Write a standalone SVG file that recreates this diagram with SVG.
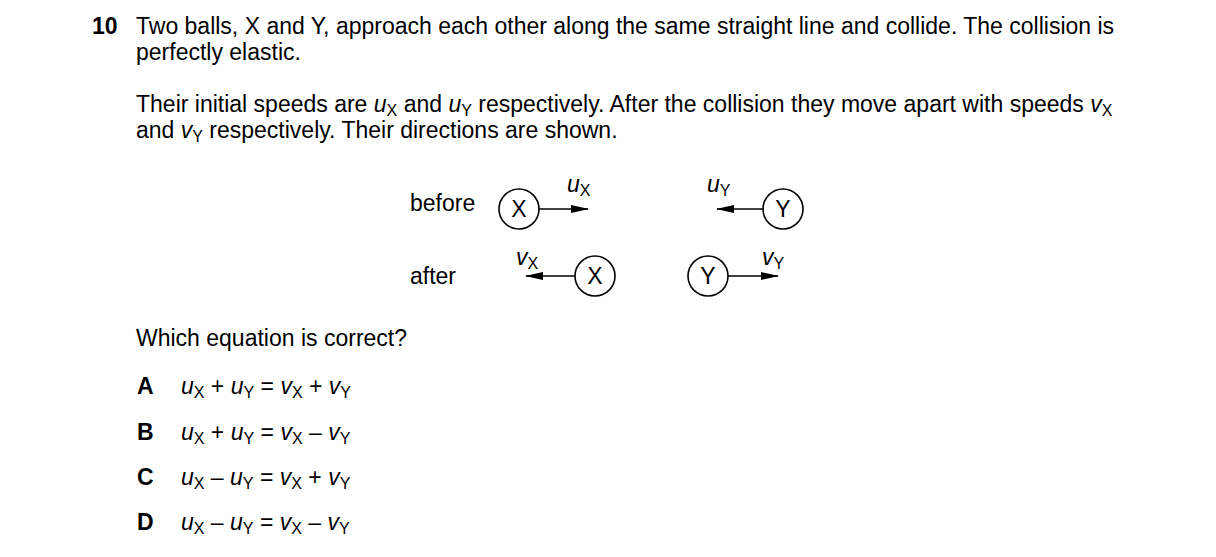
<svg xmlns="http://www.w3.org/2000/svg" width="1216" height="557" viewBox="0 0 1216 557">
<style>
text{font-family:"Liberation Sans",Arial,sans-serif;font-size:23px;fill:#000}
.b{font-weight:bold}
.i{font-style:italic}
.s{font-size:16px;font-style:normal}
.c{fill:#fff;stroke:#000;stroke-width:1.6}
.l{stroke:#000;stroke-width:1.6}
</style>
<defs><marker id="a" markerWidth="18" markerHeight="8" refX="17" refY="4" orient="auto" markerUnits="userSpaceOnUse"><path d="M0,0L18,4L0,8z"/></marker></defs>
<rect width="1216" height="557" fill="#fff"/>
<text x="92" y="34" class="b">10</text>
<text x="136" y="34">Two balls, X and Y, approach each other along the same straight line and collide. The collision is</text>
<text x="136" y="60">perfectly elastic.</text>
<text x="136" y="112">Their initial speeds are <tspan class="i">u</tspan><tspan class="s" dy="4">X</tspan><tspan dy="-4"> and </tspan><tspan class="i">u</tspan><tspan class="s" dy="4">Y</tspan><tspan dy="-4"> respectively. After the collision they move apart with speeds </tspan><tspan class="i">v</tspan><tspan class="s" dy="4">X</tspan></text>
<text x="136" y="138">and <tspan class="i">v</tspan><tspan class="s" dy="4">Y</tspan><tspan dy="-4"> respectively. Their directions are shown.</tspan></text>
<text x="410" y="211">before</text>
<text x="410" y="284">after</text>
<g id="connectors">
<line class="l" x1="539" y1="209" x2="588" y2="209" marker-end="url(#a)"/>
<line class="l" x1="763" y1="209" x2="717" y2="209" marker-end="url(#a)"/>
<line class="l" x1="575" y1="276" x2="526" y2="276" marker-end="url(#a)"/>
<line class="l" x1="728" y1="276" x2="778" y2="276" marker-end="url(#a)"/>
</g>
<text x="567" y="192" class="i">u<tspan class="s" dy="4">X</tspan></text>
<text x="707" y="192" class="i">u<tspan class="s" dy="4">Y</tspan></text>
<text x="516" y="265" class="i">v<tspan class="s" dy="4">X</tspan></text>
<text x="762" y="265" class="i">v<tspan class="s" dy="4">Y</tspan></text>
<g id="X1"><circle class="c" cx="519" cy="209" r="20"/><text x="519" y="217" text-anchor="middle">X</text></g>
<g id="Y1"><circle class="c" cx="783" cy="209" r="20"/><text x="783" y="217" text-anchor="middle">Y</text></g>
<g id="X2"><circle class="c" cx="595" cy="276" r="20"/><text x="595" y="284" text-anchor="middle">X</text></g>
<g id="Y2"><circle class="c" cx="708" cy="276" r="20"/><text x="708" y="284" text-anchor="middle">Y</text></g>
<text x="136" y="346">Which equation is correct?</text>
<g>
<text x="137" y="394" class="b">A</text>
<text x="181" y="394"><tspan class="i">u</tspan><tspan class="s" dy="4">X</tspan><tspan dy="-4"> + </tspan><tspan class="i">u</tspan><tspan class="s" dy="4">Y</tspan><tspan dy="-4"> = </tspan><tspan class="i">v</tspan><tspan class="s" dy="4">X</tspan><tspan dy="-4"> + </tspan><tspan class="i">v</tspan><tspan class="s" dy="4">Y</tspan></text>
<text x="137" y="440" class="b">B</text>
<text x="181" y="440"><tspan class="i">u</tspan><tspan class="s" dy="4">X</tspan><tspan dy="-4"> + </tspan><tspan class="i">u</tspan><tspan class="s" dy="4">Y</tspan><tspan dy="-4"> = </tspan><tspan class="i">v</tspan><tspan class="s" dy="4">X</tspan><tspan dy="-4"> – </tspan><tspan class="i">v</tspan><tspan class="s" dy="4">Y</tspan></text>
<text x="137" y="485" class="b">C</text>
<text x="181" y="485"><tspan class="i">u</tspan><tspan class="s" dy="4">X</tspan><tspan dy="-4"> – </tspan><tspan class="i">u</tspan><tspan class="s" dy="4">Y</tspan><tspan dy="-4"> = </tspan><tspan class="i">v</tspan><tspan class="s" dy="4">X</tspan><tspan dy="-4"> + </tspan><tspan class="i">v</tspan><tspan class="s" dy="4">Y</tspan></text>
<text x="137" y="530" class="b">D</text>
<text x="181" y="530"><tspan class="i">u</tspan><tspan class="s" dy="4">X</tspan><tspan dy="-4"> – </tspan><tspan class="i">u</tspan><tspan class="s" dy="4">Y</tspan><tspan dy="-4"> = </tspan><tspan class="i">v</tspan><tspan class="s" dy="4">X</tspan><tspan dy="-4"> – </tspan><tspan class="i">v</tspan><tspan class="s" dy="4">Y</tspan></text>
</g>
</svg>
